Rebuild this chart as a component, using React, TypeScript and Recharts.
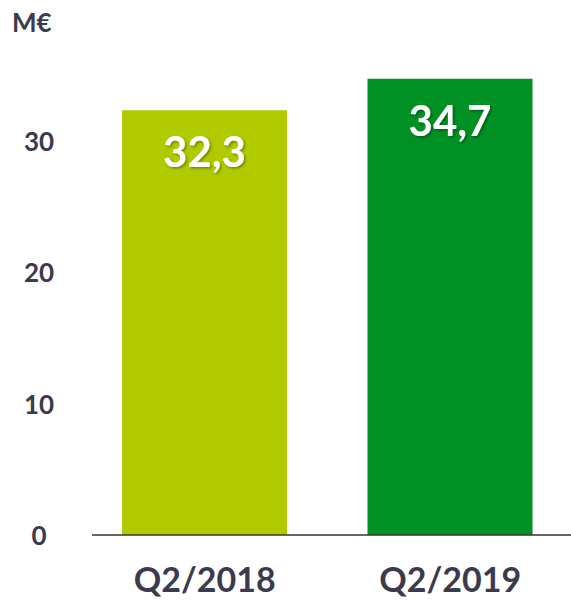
import React from 'react';
import { BarChart, Bar, XAxis, YAxis, Cell, LabelList } from 'recharts';

const categories = ['Q2/2018', 'Q2/2019'];
const values = [32.3, 34.7];
const yTicks = [0, 10, 20, 30];

const COLORS = ['#b0ca00', '#009023'];
const TEXT = '#3b3a4e';
const FONT = 'Lato, "Open Sans", sans-serif';

const data = categories.map((name, i) => ({ name, value: values[i] }));

const YTick = (props: any) => {
    const { y, payload } = props;
    return (
        <text x={39} y={y} dy={10} textAnchor="middle" fill={TEXT} fontSize={26} fontWeight="bold" fontFamily={FONT}>
            {payload.value}
        </text>
    );
};

const XTick = (props: any) => {
    const { x, y, payload } = props;
    return (
        <text x={x} y={y} dy={49} textAnchor="middle" fill={TEXT} fontSize={34} fontWeight="bold" fontFamily={FONT}>
            {payload.value}
        </text>
    );
};

const ValueLabel = (props: any) => {
    const { x, y, width, value } = props;
    return (
        <text x={x + width / 2} y={y + 57} textAnchor="middle" fill="#ffffff" fontSize={42} fontWeight="bold"
            fontFamily={FONT} filter="url(#txtShadow)">
            {String(value).replace('.', ',')}
        </text>
    );
};

const App: React.FC = () => {
    return (
        <div style={{ position: 'absolute', left: 0, top: 0, width: 571, height: 602, background: '#fff' }}>
            <svg width={0} height={0} style={{ position: 'absolute' }}>
                <defs>
                    <filter id="txtShadow" x="-20%" y="-20%" width="140%" height="140%">
                        <feDropShadow dx="1.5" dy="1.5" stdDeviation="1" floodColor="#000" floodOpacity="0.35" />
                    </filter>
                </defs>
            </svg>
            <div style={{ position: 'absolute', left: 12, top: 6, color: TEXT, fontFamily: FONT, fontWeight: 'bold', fontSize: 26 }}>
                M€
            </div>
            <BarChart width={571} height={602} data={data} margin={{ top: 9, right: -2, left: 0, bottom: 0 }}>
                <XAxis
                    dataKey="name"
                    height={67}
                    tickLine={false}
                    axisLine={{ stroke: '#333333', strokeWidth: 1.5 }}
                    tick={<XTick />}
                    padding={{ left: -10, right: 0 }}
                />
                <YAxis
                    width={92}
                    domain={[0, 40]}
                    ticks={yTicks}
                    axisLine={false}
                    tickLine={false}
                    tick={<YTick />}
                />
                <Bar dataKey="value" barSize={165} isAnimationActive={false}>
                    {data.map((entry, index) => (
                        <Cell key={`cell-${index}`} fill={COLORS[index % COLORS.length]} />
                    ))}
                    <LabelList dataKey="value" content={<ValueLabel />} />
                </Bar>
            </BarChart>
        </div>
    );
};

export default App;
